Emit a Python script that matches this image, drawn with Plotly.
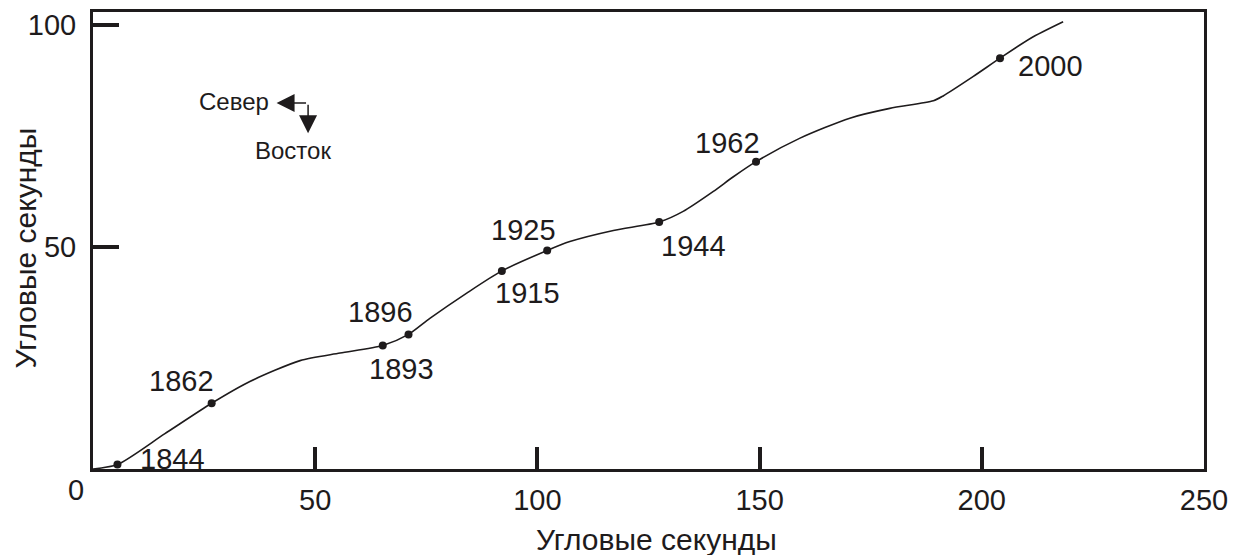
import plotly.graph_objects as go

# Curve (arc-seconds)
curve_x = [0, 5.5, 16.1, 26.7, 35.3, 46.6, 55.6, 65.2, 71.0, 75.8, 84.1, 92.0, 102.2, 107.3,
           117.1, 127.4, 132.8, 139.6, 144.1, 149.2, 159.1, 170.3, 179.3, 189.1, 191.3,
           198.1, 204.1, 211.0, 218.3]
curve_y = [0, 1.0, 7.9, 14.8, 19.7, 24.4, 26.1, 27.8, 30.3, 33.9, 39.6, 44.6, 49.2, 51.2,
           53.7, 55.6, 58.0, 62.5, 65.8, 69.2, 74.5, 79.0, 81.2, 82.9, 84.0,
           88.4, 92.5, 97.0, 100.7]

# Dated points
dot_years = ["1844", "1862", "1893", "1896", "1915", "1925", "1944", "1962", "2000"]
dot_x = [5.5, 26.7, 65.2, 71.0, 92.0, 102.2, 127.4, 149.2, 204.1]
dot_y = [1.0, 14.8, 27.8, 30.3, 44.6, 49.2, 55.6, 69.2, 92.5]

x_ticks = [50, 100, 150, 200, 250]
y_ticks = [50, 100]
axis_title = "Угловые секунды"

# label offsets in pixels (style)
label_shift = [(55, 6), (-30, 22), (19, -23), (-28, 22), (26, -22),
               (-24, 20), (34, -24), (-29, 19), (50, -8)]

INK = "#1e1b1c"
FONT = "Liberation Sans, Arial, sans-serif"

fig = go.Figure()
fig.add_trace(go.Scatter(x=curve_x, y=curve_y, mode="lines",
                         line=dict(color=INK, width=1.6, shape="spline", smoothing=0.7),
                         hoverinfo="skip", showlegend=False))
fig.add_trace(go.Scatter(x=dot_x, y=dot_y, mode="markers", text=dot_years,
                         marker=dict(color=INK, size=8), showlegend=False))

ann = []
for yr, xv, yv, (sx, sy) in zip(dot_years, dot_x, dot_y, label_shift):
    ann.append(dict(x=xv, y=yv, xref="x", yref="y", text=yr, showarrow=False,
                    xshift=sx, yshift=sy, xanchor="center", yanchor="middle",
                    font=dict(size=29, color=INK, family=FONT)))

# direction legend
ann.append(dict(x=31.7, y=82.8, text="Север", showarrow=False, xanchor="center", yanchor="middle",
                font=dict(size=24, color=INK, family=FONT)))
ann.append(dict(x=45.0, y=71.7, text="Восток", showarrow=False, xanchor="center", yanchor="middle",
                font=dict(size=24, color=INK, family=FONT)))
ann.append(dict(x=41.3, y=82.4, ax=31, ay=0, axref="pixel", ayref="pixel", text="",
                showarrow=True, arrowhead=2, arrowsize=2.4, arrowwidth=1.5, arrowcolor=INK))
ann.append(dict(x=48.4, y=75.6, ax=0, ay=-30, axref="pixel", ayref="pixel", text="",
                showarrow=True, arrowhead=2, arrowsize=2.4, arrowwidth=1.5, arrowcolor=INK))

# origin label and axis titles
ann.append(dict(x=0, y=0, text="0", showarrow=False, xshift=-17, yshift=-21,
                xanchor="center", yanchor="middle",
                font=dict(size=29, color=INK, family=FONT)))
ann.append(dict(x=0.5, y=0, xref="paper", yref="paper", text=axis_title, showarrow=False,
                xanchor="center", yanchor="middle",
                xshift=8, yshift=-70, font=dict(size=30, color=INK, family=FONT)))
ann.append(dict(x=0, y=0.5, xref="paper", yref="paper", text=axis_title, showarrow=False,
                xanchor="center", yanchor="middle", borderpad=0,
                textangle=-90, xshift=-68, yshift=-8, font=dict(size=30, color=INK, family=FONT)))

# page body has an 8px margin: compensate so the plot box lands where the reference has it
fig.update_layout(
    width=1245, height=555,
    margin=dict(l=85, r=49, t=4, b=94, autoexpand=False),
    paper_bgcolor="white", plot_bgcolor="white",
    annotations=ann,
    font=dict(family=FONT, color=INK, size=29),
)
fig.update_xaxes(range=[0, 250], tickvals=x_ticks, ticks="inside", ticklen=22, tickwidth=3.5,
                 tickcolor=INK, showline=True, linecolor=INK, linewidth=3, mirror=True,
                 showgrid=False, zeroline=False, ticklabelstandoff=3,
                 tickfont=dict(size=29, color=INK, family=FONT))
fig.update_yaxes(range=[0, 102.9], tickvals=y_ticks, ticks="inside", ticklen=26, tickwidth=3.5,
                 tickcolor=INK, showline=True, linecolor=INK, linewidth=3, mirror=True,
                 showgrid=False, zeroline=False, ticklabelstandoff=8,
                 tickfont=dict(size=29, color=INK, family=FONT))

fig.write_html("out.html")
